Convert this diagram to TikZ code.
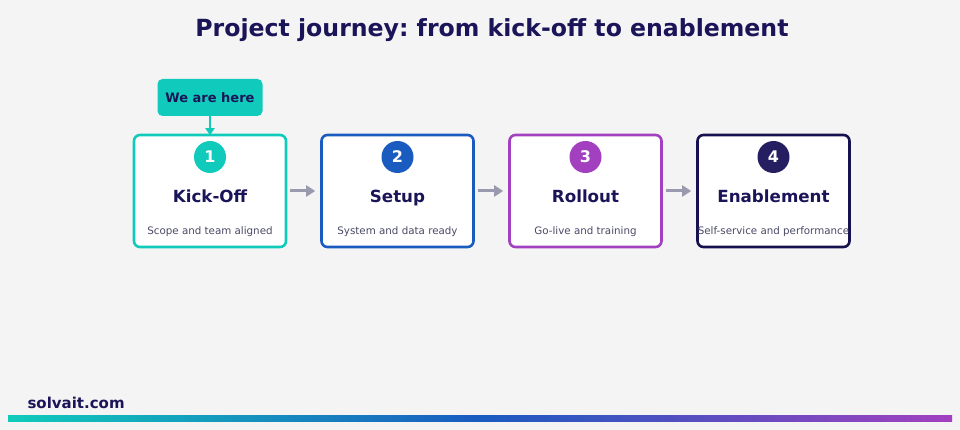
\documentclass[tikz,border=0pt]{standalone}
\usepackage{fontspec}
\setmainfont{DejaVu Sans}
\usetikzlibrary{arrows.meta,shadings}
\frenchspacing
\definecolor{bgc}{HTML}{F4F4F4}
\definecolor{navy}{HTML}{1A1458}
\definecolor{tealc}{HTML}{10CBBB}
\definecolor{bluec}{HTML}{1A5BC0}
\definecolor{purplec}{HTML}{A240C0}
\definecolor{navyc}{HTML}{15124F}
\definecolor{navyfill}{HTML}{251F62}
\definecolor{grayarrow}{HTML}{9A9AAE}
\definecolor{subc}{HTML}{4A4A66}
\tikzset{
  stagebox/.style={draw=#1, line width=2.6pt, fill=white, rounded corners=6pt, minimum width=152pt, minimum height=112pt, inner sep=0pt},
  numcirc/.style={circle, fill=#1, minimum size=32pt, inner sep=0pt, text=white, font=\bfseries\fontsize{16}{18}\selectfont},
  stagetitle/.style={anchor=base, text=navy, font=\bfseries\fontsize{16.7}{19}\selectfont},
  stagesub/.style={anchor=base, text=subc, font=\fontsize{10.3}{12}\selectfont},
  flowarrow/.style={draw=grayarrow, line width=3pt, -{Triangle[length=9pt,width=11pt]}},
}
\begin{document}
\begin{tikzpicture}[x=1pt,y=-1pt]
\fill[bgc] (0,0) rectangle (960,430);
\useasboundingbox (0,0) rectangle (960,430);
\node[anchor=base, text=navy, font=\bfseries\fontsize{23.6}{27}\selectfont] (title) at (492,36.5) {Project journey: from kick-off to enablement};
% boxes
\node[stagebox=tealc] (b1) at (210,191) {};
\node[stagebox=bluec] (b2) at (397.5,191) {};
\node[stagebox=purplec] (b3) at (585.5,191) {};
\node[stagebox=navyc] (b4) at (773.5,191) {};
% circles
\node[numcirc=tealc] (c1) at (210,157) {1};
\node[numcirc=bluec] (c2) at (397.5,157) {2};
\node[numcirc=purplec] (c3) at (585.5,157) {3};
\node[numcirc=navyfill] (c4) at (773.5,157) {4};
% titles
\node[stagetitle] (t1) at (210,202.5) {Kick-Off};
\node[stagetitle] (t2) at (397.5,202.5) {Setup};
\node[stagetitle] (t3) at (585.5,202.5) {Rollout};
\node[stagetitle] (t4) at (773.5,202.5) {Enablement};
% subtitles
\node[stagesub] (s1) at (210,235) {Scope and team aligned};
\node[stagesub] (s2) at (397.5,235) {System and data ready};
\node[stagesub] (s3) at (585.5,235) {Go-live and training};
\node[stagesub] (s4) at (773.5,235) {Self-service and performance};
% arrows
\draw[flowarrow] ([xshift=3pt]b1.east) -- ([xshift=-5pt]b2.west);
\draw[flowarrow] ([xshift=3pt]b2.east) -- ([xshift=-5pt]b3.west);
\draw[flowarrow] ([xshift=3pt]b3.east) -- ([xshift=-5pt]b4.west);
% badge
\node[fill=tealc, rounded corners=5pt, minimum width=105pt, minimum height=37pt, text=navy, font=\bfseries\fontsize{13}{15}\selectfont] (badge) at (210,97.5) {We are here};
\draw[draw=tealc, line width=1.8pt, -{Triangle[length=7pt,width=9pt]}] (badge.south) -- ([yshift=-1.5pt]b1.north);
% footer
\node[anchor=west, text=navy, font=\bfseries\fontsize{15}{17}\selectfont] (site) at (24,403) {solvait.com};
\shade[left color=tealc, right color=purplec, middle color=bluec] (8,415) rectangle (952,421);
\end{tikzpicture}
\end{document}
